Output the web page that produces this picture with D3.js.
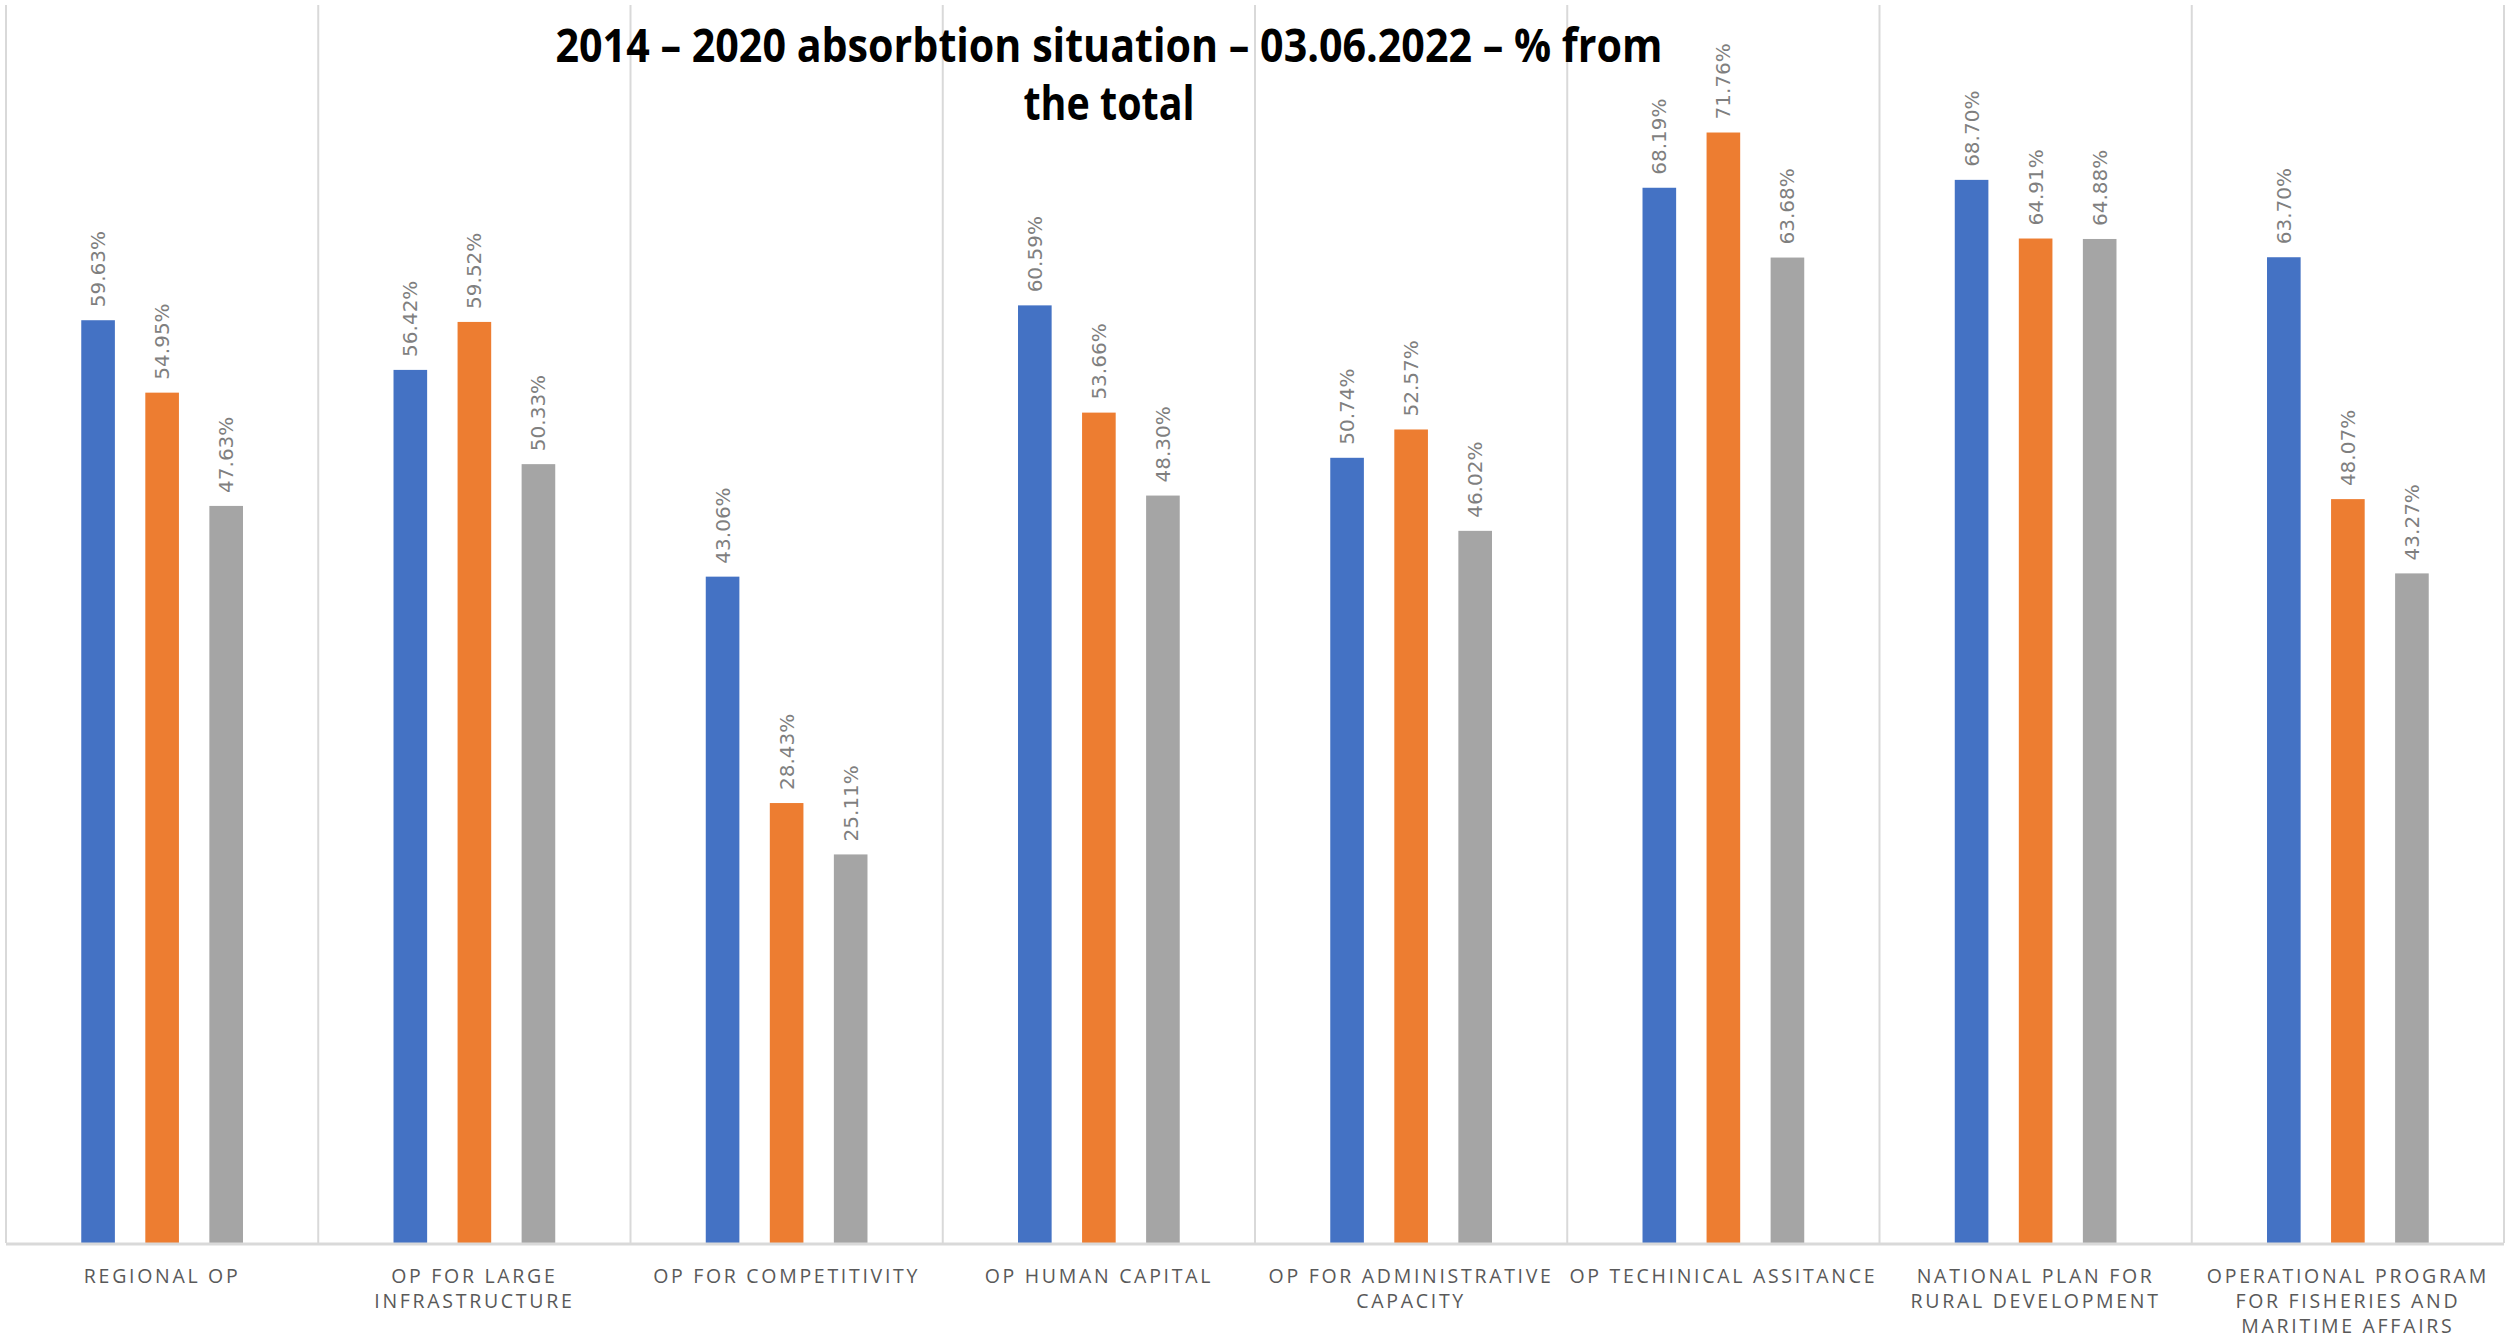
<!DOCTYPE html>
<html>
<head>
<meta charset="utf-8">
<script src="https://cdn.jsdelivr.net/npm/d3@7"></script>
<style>
	html, body { margin: 0; padding: 0; background: #fff; }
	svg { display: block; }
	.cat_label { font-family: "Open Sans", sans-serif; fill: #595959; }
	.val_label { font-family: "DejaVu Sans", sans-serif; fill: #7f7f7f; }
	.title { font-family: "Open Sans", sans-serif; font-weight: bold; fill: #000; }
</style>
</head>
<body>
<div id="chart"></div>
<script>
const W = 2509, H = 1340;

// data
const categories = [
	'REGIONAL OP',
	'OP FOR LARGE\nINFRASTRUCTURE',
	'OP FOR COMPETITIVITY',
	'OP HUMAN CAPITAL',
	'OP FOR ADMINISTRATIVE\nCAPACITY',
	'OP TECHINICAL ASSITANCE',
	'NATIONAL PLAN FOR\nRURAL DEVELOPMENT',
	'OPERATIONAL PROGRAM\nFOR FISHERIES AND\nMARITIME AFFAIRS'
];
const seriesNames = ['Series 1', 'Series 2', 'Series 3'];
const series1 = [59.63, 56.42, 43.06, 60.59, 50.74, 68.19, 68.70, 63.70];
const series2 = [54.95, 59.52, 28.43, 53.66, 52.57, 71.76, 64.91, 48.07];
const series3 = [47.63, 50.33, 25.11, 48.30, 46.02, 63.68, 64.88, 43.27];
const yTicks = [0, 80];
const titleLines = ['2014 \u2013 2020 absorbtion situation \u2013 03.06.2022 \u2013 % from', 'the total'];

const colors = ['#4472c4', '#ed7d31', '#a5a5a5'];
const allSeries = [series1, series2, series3];

const margin = { left: 6, right: 5, top: 5, bottom: 97 };
const plotW = W - margin.left - margin.right;
const plotH = H - margin.top - margin.bottom;

const svg = d3.select('#chart').append('svg')
	.attr('width', W)
	.attr('height', H)
	.attr('viewBox', `0 0 ${W} ${H}`);

const g = svg.append('g')
	.attr('transform', `translate(${margin.left}, ${margin.top})`);

const x0 = d3.scaleBand()
	.domain(categories)
	.range([0, plotW])
	.paddingInner(0)
	.paddingOuter(0);

const x1 = d3.scaleBand()
	.domain(seriesNames)
	.range([0, x0.bandwidth()])
	.paddingInner(0.475)
	.paddingOuter(1.175);

const y = d3.scaleLinear()
	.domain(d3.extent(yTicks))
	.range([plotH, 0]);

// category separators (vertical lines)
g.selectAll('.sep')
	.data(categories.concat(['end']))
	.enter()
	.append('line')
	.attr('x1', (d, i) => i < categories.length ? x0(d) : plotW)
	.attr('x2', (d, i) => i < categories.length ? x0(d) : plotW)
	.attr('y1', y(yTicks[1]))
	.attr('y2', y(0))
	.attr('stroke', '#d9d9d9')
	.attr('stroke-width', 2);

// bars
const groups = g.selectAll('.grp')
	.data(categories)
	.enter()
	.append('g')
	.attr('transform', d => `translate(${x0(d)}, 0)`);

groups.selectAll('rect')
	.data((d, ci) => seriesNames.map((s, si) => ({ s: s, si: si, v: allSeries[si][ci] })))
	.enter()
	.append('rect')
	.attr('x', d => x1(d.s))
	.attr('width', x1.bandwidth())
	.attr('y', d => y(d.v))
	.attr('height', d => y(0) - y(d.v))
	.attr('fill', d => colors[d.si]);

// value labels, rotated
groups.selectAll('.val_label')
	.data((d, ci) => seriesNames.map((s, si) => ({ s: s, si: si, v: allSeries[si][ci] })))
	.enter()
	.append('text')
	.classed('val_label', true)
	.attr('transform', d => `translate(${x1(d.s) + x1.bandwidth() / 2 + 7}, ${y(d.v) - 13}) rotate(-90)`)
	.attr('font-size', 20)
	.attr('text-anchor', 'start')
	.text(d => d.v.toFixed(2) + '%');

// x axis baseline
g.append('line')
	.attr('x1', 0)
	.attr('x2', plotW)
	.attr('y1', y(0) + 1)
	.attr('y2', y(0) + 1)
	.attr('stroke', '#d9d9d9')
	.attr('stroke-width', 3);

// category labels
const catText = g.selectAll('.cat_label')
	.data(categories)
	.enter()
	.append('text')
	.classed('cat_label', true)
	.attr('text-anchor', 'middle')
	.attr('font-size', 19.5)
	.attr('letter-spacing', 2.7)
	.attr('y', y(0) + 40);

catText.each(function (d) {
	const el = d3.select(this);
	d.split('\n').forEach((line, i) => {
		el.append('tspan')
			.attr('x', x0(d) + x0.bandwidth() / 2)
			.attr('dy', i === 0 ? 0 : 25)
			.text(line);
	});
});

// title
const titleWidths = [1107, 171];
svg.selectAll('.title')
	.data(titleLines)
	.enter()
	.append('text')
	.classed('title', true)
	.attr('x', 1109)
	.attr('y', (d, i) => 62 + i * 58)
	.attr('text-anchor', 'middle')
	.attr('font-size', 46)
	.attr('textLength', (d, i) => titleWidths[i])
	.attr('lengthAdjust', 'spacingAndGlyphs')
	.text(d => d);
</script>
</body>
</html>
